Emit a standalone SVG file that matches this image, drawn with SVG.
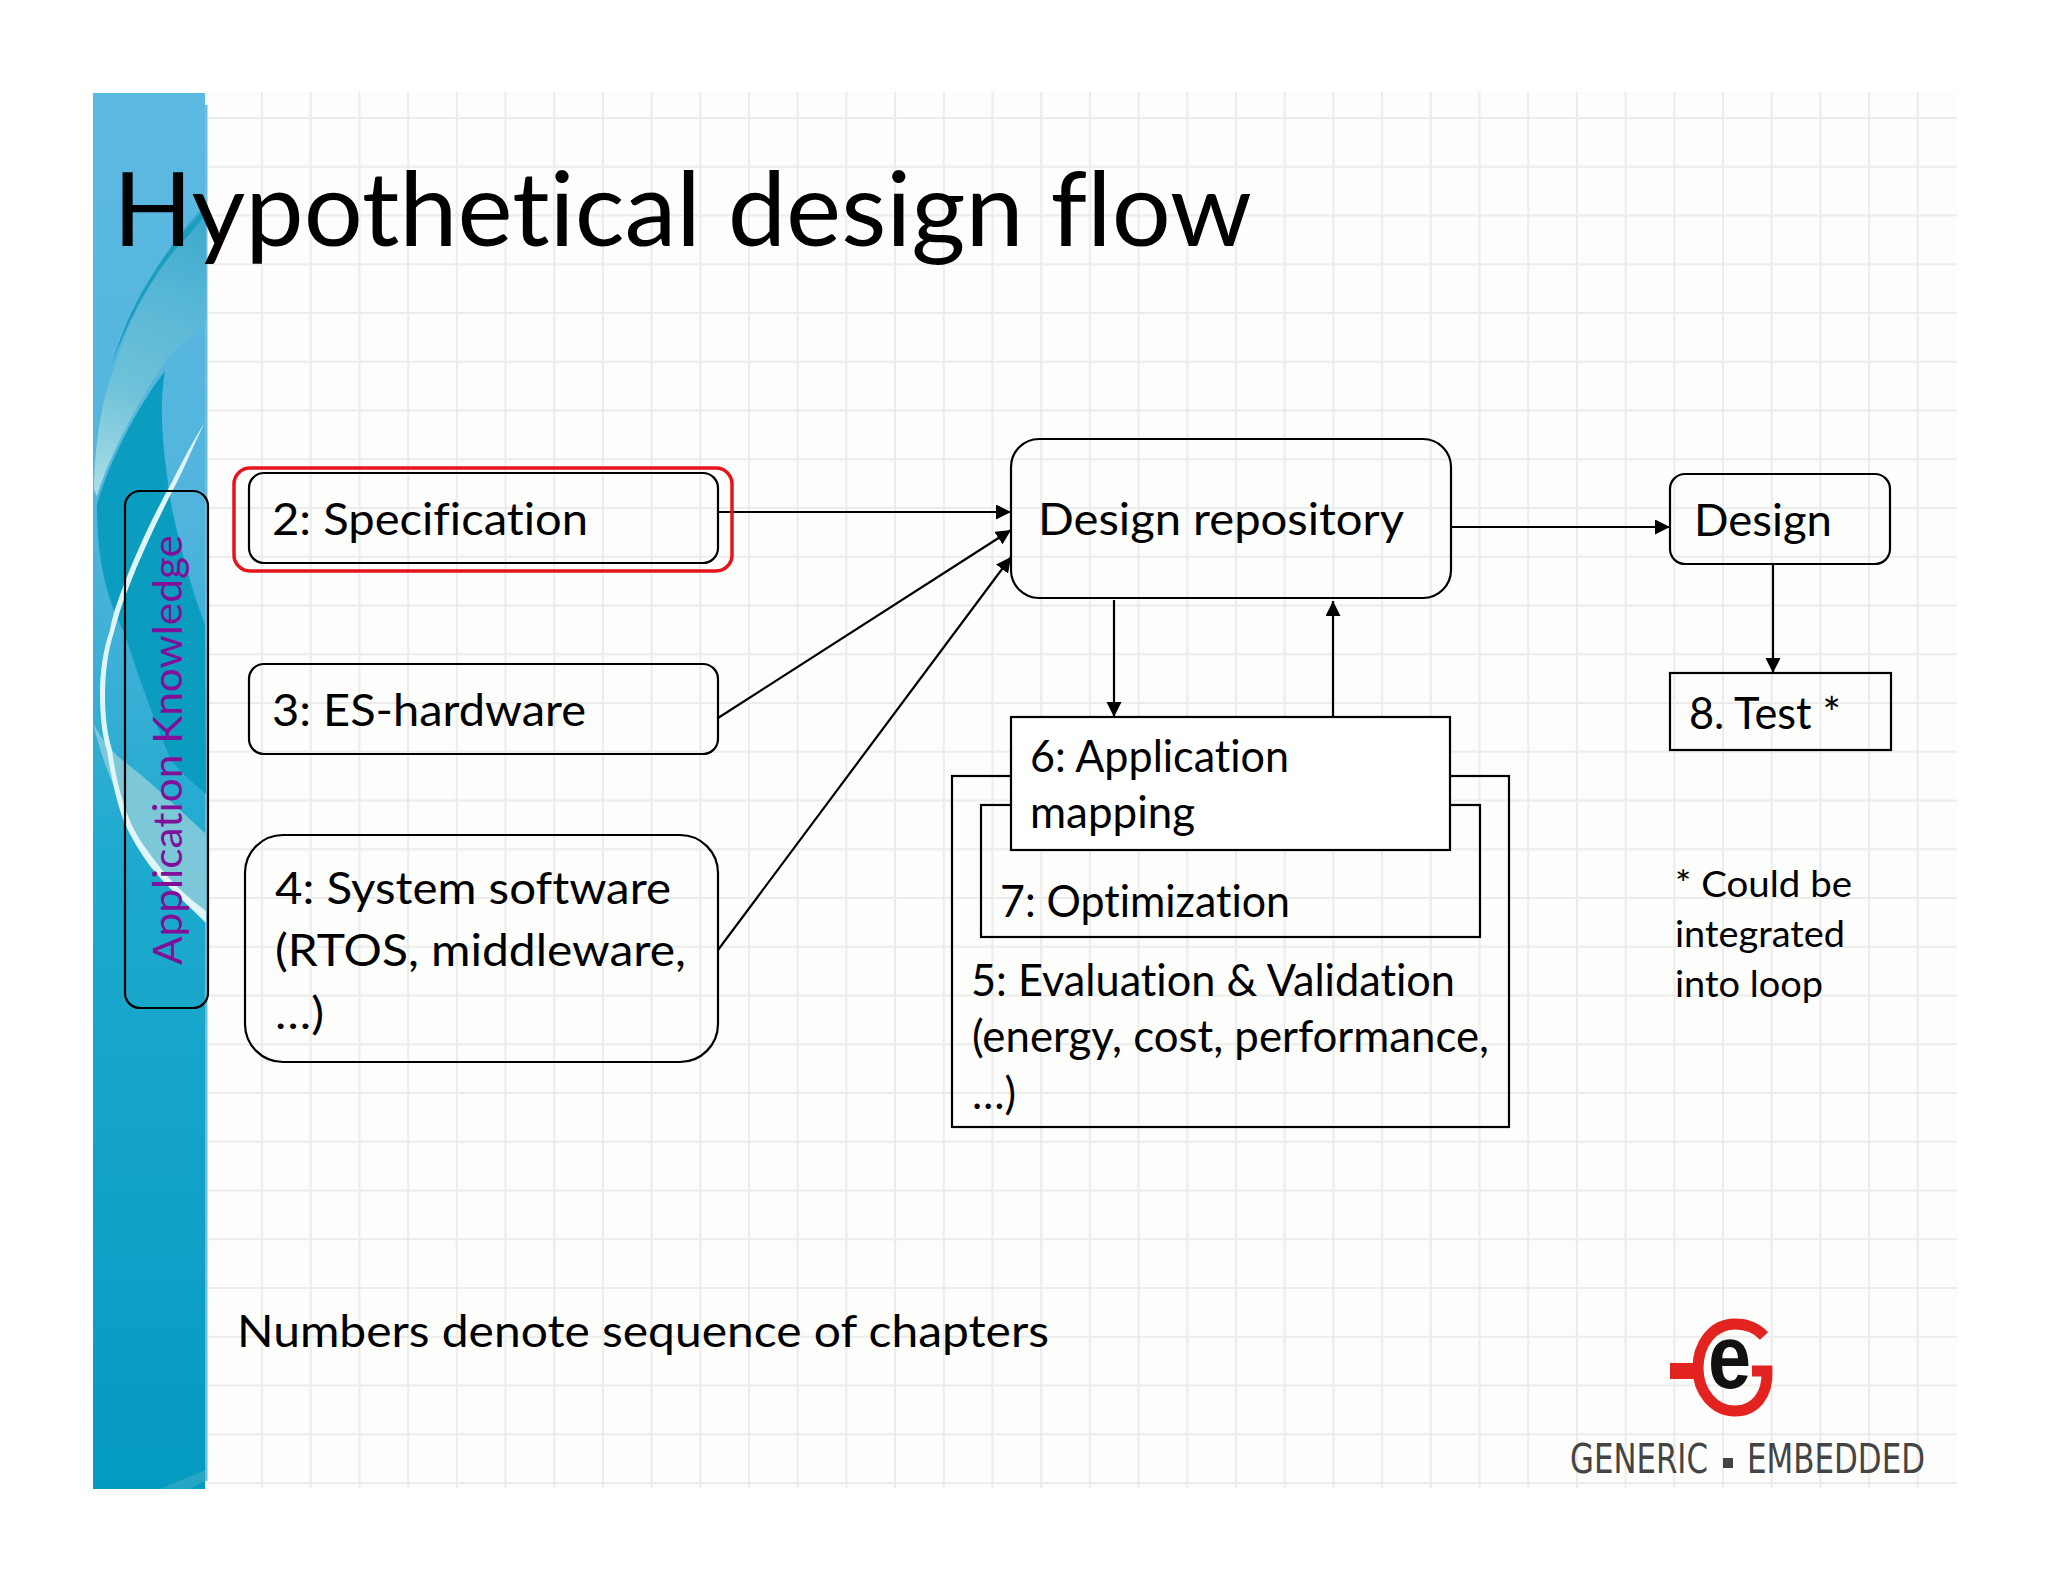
<svg xmlns="http://www.w3.org/2000/svg" width="2048" height="1582" viewBox="0 0 2048 1582">
<defs>
<linearGradient id="panelGrad" x1="0" y1="0" x2="0" y2="1">
<stop offset="0" stop-color="#5cb9e2"/><stop offset="0.3" stop-color="#52b4dc"/><stop offset="0.55" stop-color="#1eaacf"/><stop offset="1" stop-color="#059ac0"/>
</linearGradient>
<linearGradient id="lightGrad" gradientUnits="userSpaceOnUse" x1="95" y1="490" x2="206" y2="210">
<stop offset="0" stop-color="#a9dde6"/><stop offset="0.35" stop-color="#6fc2d8"/><stop offset="0.7" stop-color="#56b6d6"/><stop offset="1" stop-color="#3aa8cc"/>
</linearGradient>
<marker id="arrow" markerUnits="userSpaceOnUse" markerWidth="16" markerHeight="16" refX="15" refY="7.5" orient="auto">
<path d="M0,0 L15,7.5 L0,15 Z" fill="#000"/>
</marker>
<style>
.t{font-family:"Lato","Liberation Sans",sans-serif;fill:#000;font-size:45px;font-variant-ligatures:none}
.b{fill:none;stroke:#000;stroke-width:2.200}
.g{stroke:#ececea;stroke-width:2;fill:none}
.c{stroke:#000;stroke-width:2.200;fill:none;marker-end:url(#arrow)}
.l{font-family:"DejaVu Sans",sans-serif;font-size:41px;fill:#444}
</style>
</defs>
<rect width="2048" height="1582" fill="#fff"/>
<rect x="207" y="92" width="1750" height="1396" fill="#fdfdfb"/>
<g id="grid">
<path class="g" d="M262,92V1488M310.700,92V1488M359.400,92V1488M408.100,92V1488M456.800,92V1488M505.500,92V1488M554.200,92V1488M602.900,92V1488M651.600,92V1488M700.300,92V1488M749,92V1488M797.700,92V1488M846.400,92V1488M895.100,92V1488M943.800,92V1488M992.500,92V1488M1041.200,92V1488M1089.900,92V1488M1138.600,92V1488M1187.300,92V1488M1236,92V1488M1284.700,92V1488M1333.400,92V1488M1382.100,92V1488M1430.800,92V1488M1479.500,92V1488M1528.200,92V1488M1576.900,92V1488M1625.600,92V1488M1674.300,92V1488M1723,92V1488M1771.700,92V1488M1820.400,92V1488M1869.100,92V1488M1917.800,92V1488"/>
<path class="g" d="M208,118H1957M208,166.800H1957M208,215.500H1957M208,264.300H1957M208,313H1957M208,361.800H1957M208,410.500H1957M208,459.300H1957M208,508H1957M208,556.800H1957M208,605.500H1957M208,654.300H1957M208,703H1957M208,751.800H1957M208,800.500H1957M208,849.300H1957M208,898H1957M208,946.800H1957M208,995.500H1957M208,1044.300H1957M208,1093H1957M208,1141.800H1957M208,1190.500H1957M208,1239.300H1957M208,1288H1957M208,1336.800H1957M208,1385.500H1957M208,1434.300H1957M208,1483H1957"/>
</g>
<g id="side-panel">
<rect x="93" y="93" width="112" height="1396" fill="url(#panelGrad)"/>
<rect x="205" y="105" width="2.500" height="1376" fill="#3fa9cb" opacity="0.75"/>
<path d="M165,371 C160,400 160,435 172,509 C182,555 192,590 205,625 L206,794 C190,780 178,770 170,758 C150,710 135,665 123,630 C108,600 97,565 97,505 C108,465 135,410 165,371 Z" fill="#0a9dbf"/>
<path d="M206,205 C185,223 165,255 152,281 C135,310 118,350 105,397 C98,425 94,460 94,490 L97,496 C108,460 135,406 168,357 C180,345 195,332 206,322 Z" fill="url(#lightGrad)"/>
<path d="M204,210 C180,232 150,272 128,320 C122,334 116,350 112,364 C130,315 160,262 188,236 C195,228 200,222 204,216 Z" fill="#1b9dbd"/>
<path d="M93,723 C105,745 115,755 130,766 C160,790 185,815 206,834 L206,919 C190,905 175,890 163,873 C145,850 125,815 113,784 C105,765 98,745 93,723 Z" fill="#7cc8d8"/>
<path d="M205,422 C195,438 184,458 173,480 C155,512 137,550 123,587 C116,605 112,618 110,630 C103,650 100,672 100,694 C100,715 102,735 107,751 C111,775 116,800 123,819 C131,838 140,852 150,866 C168,888 188,905 206,923 L206,911 C190,899 172,884 156,862 C145,848 135,833 128,816 C120,796 115,772 112,750 C107,733 105,715 105,695 C105,672 108,650 114,632 C118,617 122,603 128,589 C142,552 160,515 177,482 C187,462 196,440 205,422 Z" fill="#dff5f8"/>
<path d="M160,1489 L205,1470 L205,1481 L190,1489 Z" fill="#2ea9c6" opacity="0.8"/>
</g>
<g id="connectors">
<line class="c" x1="718" y1="512" x2="1011" y2="512"/>
<line class="c" x1="718" y1="718" x2="1011" y2="530"/>
<line class="c" x1="718" y1="950" x2="1011" y2="557"/>
<line class="c" x1="1451" y1="527" x2="1670" y2="527"/>
<line class="c" x1="1114" y1="600" x2="1114" y2="717"/>
<line class="c" x1="1333" y1="717" x2="1333" y2="601"/>
<line class="c" x1="1773" y1="564" x2="1773" y2="673"/>
</g>
<text class="t" x="113" y="246" style="font-size:102px" textLength="1139" lengthAdjust="spacingAndGlyphs">Hypothetical design flow</text>
<g id="node-app-knowledge">
<rect class="b" x="125" y="491" width="83" height="517" rx="15"/>
<text class="t" transform="translate(182,965) rotate(-90)" style="fill:#80109a;font-size:40px" textLength="430" lengthAdjust="spacingAndGlyphs">Application Knowledge</text>
</g>
<g id="node-highlight">
<rect x="234" y="468" width="498" height="103" rx="16" fill="none" stroke="#e8141c" stroke-width="3.500"/>
</g>
<g id="node-spec">
<rect class="b" x="249" y="473" width="469" height="90" rx="15"/>
<text class="t" x="272" y="535" textLength="316" lengthAdjust="spacingAndGlyphs">2: Specification</text>
</g>
<g id="node-hardware">
<rect class="b" x="249" y="664" width="469" height="90" rx="15"/>
<text class="t" x="272" y="726" textLength="314" lengthAdjust="spacingAndGlyphs">3: ES-hardware</text>
</g>
<g id="node-software">
<rect class="b" x="245" y="835" width="473" height="227" rx="38"/>
<text class="t" x="275" y="904" textLength="396" lengthAdjust="spacingAndGlyphs">4: System software</text>
<text class="t" x="275" y="966" textLength="411" lengthAdjust="spacingAndGlyphs">(RTOS, middleware,</text>
<text class="t" x="275" y="1029" textLength="49" lengthAdjust="spacingAndGlyphs">…)</text>
</g>
<g id="node-repository">
<rect class="b" x="1011" y="439" width="440" height="159" rx="28"/>
<text class="t" x="1038" y="535" textLength="366" lengthAdjust="spacingAndGlyphs">Design repository</text>
</g>
<g id="node-design">
<rect class="b" x="1670" y="474" width="220" height="90" rx="15"/>
<text class="t" x="1694" y="536" textLength="138" lengthAdjust="spacingAndGlyphs">Design</text>
</g>
<g id="node-test">
<rect class="b" x="1670" y="673" width="221" height="77"/>
<text class="t" x="1689" y="729" textLength="152" lengthAdjust="spacingAndGlyphs">8. Test *</text>
</g>
<g id="node-evaluation">
<rect class="b" x="952" y="776" width="557" height="351"/>
<text class="t" x="971" y="996" textLength="484" lengthAdjust="spacingAndGlyphs">5: Evaluation &amp; Validation</text>
<text class="t" x="972" y="1052" textLength="517" lengthAdjust="spacingAndGlyphs">(energy, cost, performance,</text>
<text class="t" x="972" y="1109" textLength="44" lengthAdjust="spacingAndGlyphs">…)</text>
</g>
<g id="node-optimization">
<rect class="b" x="981" y="805" width="499" height="132"/>
<text class="t" x="1000" y="917" textLength="290" lengthAdjust="spacingAndGlyphs">7: Optimization</text>
</g>
<g id="node-mapping">
<rect class="b" x="1011" y="717" width="439" height="133" style="fill:#fff"/>
<text class="t" x="1030" y="772" textLength="259" lengthAdjust="spacingAndGlyphs">6: Application</text>
<text class="t" x="1030" y="828" textLength="165" lengthAdjust="spacingAndGlyphs">mapping</text>
</g>
<g id="note">
<text class="t" x="1675" y="897" style="font-size:37px" textLength="177" lengthAdjust="spacingAndGlyphs">* Could be</text>
<text class="t" x="1675" y="947" style="font-size:37px" textLength="170" lengthAdjust="spacingAndGlyphs">integrated</text>
<text class="t" x="1675" y="997" style="font-size:37px" textLength="148" lengthAdjust="spacingAndGlyphs">into loop</text>
</g>
<text class="t" x="237" y="1347" textLength="812" lengthAdjust="spacingAndGlyphs">Numbers denote sequence of chapters</text>
<g id="logo">
<path d="M1764,1336 C1755,1326 1745,1324 1735,1324 C1712,1324 1698,1345 1698,1368 C1698,1392 1714,1411 1735,1411 C1755,1411 1768,1395 1767,1371 L1752,1371" fill="none" stroke="#e2231f" stroke-width="11"/>
<rect x="1670" y="1363" width="28" height="16" fill="#e2231f"/>
<text transform="translate(1708,1388) scale(0.86,1)" style="font-family:'Liberation Sans',sans-serif;font-weight:bold;font-size:90px;fill:#111">e</text>
<text class="l" x="1570" y="1473" textLength="138" lengthAdjust="spacingAndGlyphs">GENERIC</text>
<rect x="1723" y="1458" width="10" height="10" fill="#444"/>
<text class="l" x="1747" y="1473" textLength="178" lengthAdjust="spacingAndGlyphs">EMBEDDED</text>
</g>
</svg>
